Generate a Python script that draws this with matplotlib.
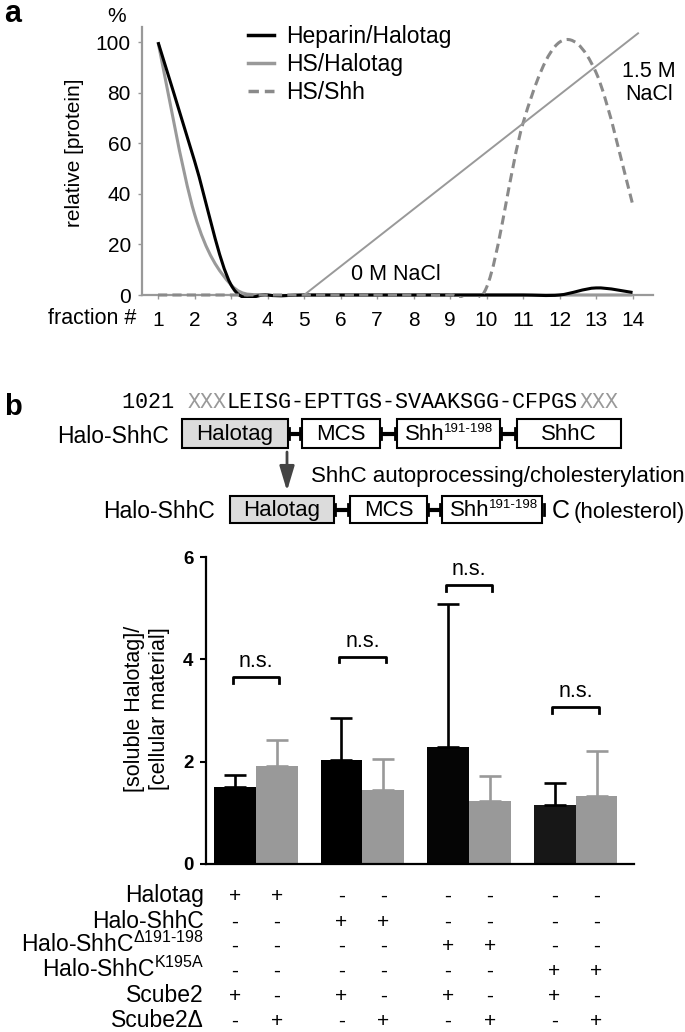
import numpy as np
import matplotlib
matplotlib.use("Agg")
import matplotlib.pyplot as plt
from matplotlib.path import Path
from matplotlib.patches import PathPatch, Rectangle
from matplotlib.lines import Line2D
import matplotlib.transforms as mtransforms

plt.rcParams['font.family'] = ['Liberation Sans', 'DejaVu Sans']
plt.rcParams['mathtext.fontset'] = 'custom'
plt.rcParams['mathtext.rm'] = 'Liberation Sans'
plt.rcParams['mathtext.it'] = 'Liberation Sans:italic'
plt.rcParams['mathtext.bf'] = 'Liberation Sans:bold'

# ---- panel a data: heparin / HS affinity chromatography ----
fractions = np.arange(1, 15)
heparin_halotag = [100, 53, 4, 0, 0, 0, 0, 0, 0, 0, 0, 0, 2.8, 1]
hs_halotag = [100, 32, 4, 0, 0, 0, 0, 0, 0, 0, 0, 0, 0, 0]
hs_shh = [0, 0, 0, 0, 0, 0, 0, 0, 0, 3, 68, 100, 88, 36]
nacl_x = [5, 14.15]
nacl_y = [0, 103.5]
legend_labels = ['Heparin/Halotag', 'HS/Halotag', 'HS/Shh']

# ---- panel b data: solubilisation assay ----
groups = ['Halotag', 'Halo-ShhC', 'Halo-ShhC d191-198', 'Halo-ShhC K195A']
scube2_mean = [1.50, 2.03, 2.29, 1.16]
scube2_sd = [0.24, 0.83, 2.80, 0.43]
scube2d_mean = [1.91, 1.44, 1.23, 1.33]
scube2d_sd = [0.51, 0.62, 0.49, 0.88]
ns_height = [3.65, 4.05, 5.45, 3.07]

row_labels = ['Halotag', 'Halo-ShhC',
              'Halo-ShhC$^{\\mathregular{\u0394191\u2010198}}$',
              'Halo-ShhC$^{\\mathregular{K195A}}$',
              'Scube2', 'Scube2\u0394']
row_signs = [['+', '+', '-', '-', '-', '-', '-', '-'],
             ['-', '-', '+', '+', '-', '-', '-', '-'],
             ['-', '-', '-', '-', '+', '+', '-', '-'],
             ['-', '-', '-', '-', '-', '-', '+', '+'],
             ['+', '-', '+', '-', '+', '-', '+', '-'],
             ['-', '+', '-', '+', '-', '+', '-', '+']]

GRAY = '#999999'
DGRAY = '#8a8a8a'
W, H = 685, 1032

fig = plt.figure(figsize=(W / 100, H / 100), dpi=100)

# overlay axes in pixel coordinates for labels and the construct diagram
ax0 = fig.add_axes([0, 0, 1, 1])
ax0.set_xlim(0, W)
ax0.set_ylim(H, 0)
ax0.axis('off')


def fig_rect(l, t, r, b):
    return [l / W, 1 - b / H, (r - l) / W, (b - t) / H]


def smooth_path(x, y):
    """Catmull-Rom style bezier through the points (like a spreadsheet smoothed line)"""
    x = np.asarray(x, float)
    y = np.asarray(y, float)
    n = len(x)
    verts = [(x[0], y[0])]
    codes = [Path.MOVETO]
    for i in range(n - 1):
        a = max(i - 1, 0)
        d = min(i + 2, n - 1)
        c1 = (x[i] + (x[i + 1] - x[a]) / 6, y[i] + (y[i + 1] - y[a]) / 6)
        c2 = (x[i + 1] - (x[d] - x[i]) / 6, y[i + 1] - (y[d] - y[i]) / 6)
        verts += [c1, c2, (x[i + 1], y[i + 1])]
        codes += [Path.CURVE4] * 3
    return Path(verts, codes)


# ================= panel a =================
axa = fig.add_axes(fig_rect(142, 27, 653, 295))
axa.patch.set_visible(False)
axa.set_xlim(0.56, 14.56)
axa.set_ylim(0, 106)
clip = Rectangle((0.56, -1.3), 14, 108, transform=axa.transData)

styles = [(heparin_halotag, 'black', '-', 4),
          (hs_halotag, GRAY, '-', 3),
          (hs_shh, DGRAY, (0, (3, 1.7)), 5)]
for vals, col, ls, z in styles:
    p = PathPatch(smooth_path(fractions, vals), fill=False, edgecolor=col,
                  lw=2.2, linestyle=ls, zorder=z)
    axa.add_patch(p)
    p.set_clip_path(clip)
axa.plot(nacl_x, nacl_y, color=GRAY, lw=1.4, zorder=6)

handles = [Line2D([], [], color=c, lw=2.5, linestyle=ls) for _, c, ls, _ in styles]
axa.legend(handles, legend_labels, loc='upper left', frameon=False,
           bbox_to_anchor=(248 / W, 1 - 25 / H), bbox_transform=fig.transFigure,
           fontsize=16.5, handlelength=1.15, handletextpad=0.5, labelspacing=0.22,
           borderpad=0, borderaxespad=0)

for s in ['top', 'right']:
    axa.spines[s].set_visible(False)
for s in ['left', 'bottom']:
    axa.spines[s].set_color(GRAY)
    axa.spines[s].set_linewidth(1.6)
axa.set_xticks(fractions)
axa.set_yticks(np.arange(0, 101, 20))
axa.tick_params(axis='x', length=3, width=1, color=GRAY, pad=8.5, labelsize=15)
axa.tick_params(axis='y', length=3, width=1, color=GRAY, pad=5, labelsize=15)

ax0.text(136, 324, 'fraction #', fontsize=15.5, ha='right', va='baseline')
ax0.text(117, 17, '%', fontsize=15, ha='center', va='center')
ax0.text(75, 153, 'relative [protein]', fontsize=15, rotation=90, ha='center', va='center')
ax0.text(396, 275, '0 M NaCl', fontsize=15.5, ha='center', va='center')
ax0.text(649, 83, '1.5 M\nNaCl', fontsize=15.5, ha='center', va='center', linespacing=1.1)
ax0.text(4, 22, 'a', fontsize=22, fontweight='bold', ha='left', va='baseline')

# ================= panel b: construct diagram =================
ax0.text(4, 415, 'b', fontsize=21, fontweight='bold', ha='left', va='baseline')

pitch = 0.6 * 15.7 * 100 / 72
segs = [('1021 ', 'black'), ('XXX', GRAY), ('LEISG-EPTTGS-SVAAKSGG-CFPGS', 'black'), ('XXX', GRAY)]
pos = 0
for s, c in segs:
    ax0.text(122 + pos * pitch, 408, s, fontsize=15.7, family='Liberation Mono',
             color=c, ha='left', va='baseline')
    pos += len(s)


def draw_construct(boxes, yc, h):
    for i, (x0, x1, lab, fc) in enumerate(boxes):
        ax0.add_patch(Rectangle((x0, yc - h / 2), x1 - x0, h, facecolor=fc,
                                edgecolor='black', lw=1.5))
        if lab == 'Shh':
            # label with small superscript range
            ax0.text(x0 + 8, yc + 6.5, 'Shh', fontsize=16, ha='left', va='baseline')
            ax0.text(x0 + 47, yc - 1, '191-198', fontsize=9.5, ha='left', va='baseline')
        else:
            ax0.text((x0 + x1) / 2, yc + 6.5, lab, fontsize=16, ha='center', va='baseline')
        if i < len(boxes) - 1:
            nx = boxes[i + 1][0]
            ax0.plot([x1, nx], [yc, yc], color='black', lw=3, solid_capstyle='butt')
            for xv in (x1 + 1.5, nx - 1.5):
                ax0.plot([xv, xv], [yc - 5.5, yc + 5.5], color='black', lw=2)


draw_construct([(182, 288, 'Halotag', '#dcdcdc'), (302, 380, 'MCS', 'white'),
                (397, 500, 'Shh', 'white'), (517, 621, 'ShhC', 'white')], 433.5, 29)
ax0.text(169, 443, 'Halo-ShhC', fontsize=16.5, ha='right', va='baseline')

draw_construct([(230, 334, 'Halotag', '#dcdcdc'), (350, 427, 'MCS', 'white'),
                (442, 542, 'Shh', 'white')], 509.5, 27)
ax0.plot([544, 544], [504, 515], color='black', lw=2)
ax0.text(215, 518, 'Halo-ShhC', fontsize=16.5, ha='right', va='baseline')
ax0.text(552, 518, 'C', fontsize=18, ha='left', va='baseline')
ax0.text(574, 518, '(holesterol)', fontsize=16, ha='left', va='baseline')

ax0.annotate('', xy=(287, 491), xytext=(287, 452),
             arrowprops=dict(arrowstyle='-|>,head_width=0.45,head_length=1.5',
                             color='#444444', lw=2, shrinkA=0, shrinkB=0))
ax0.text(311, 482, 'ShhC autoprocessing/cholesterylation', fontsize=16,
         ha='left', va='baseline')

# ================= panel b: bar chart =================
axb = fig.add_axes(fig_rect(206, 557, 634, 864))
axb.patch.set_visible(False)
x = np.arange(len(groups))
off = 0.197
bw = 0.394
axb.bar(x - off, scube2_mean, bw, color=['#000000', '#000000', '#050505', '#171717'],
        yerr=[np.zeros(len(x)), scube2_sd], ecolor='black',
        error_kw=dict(lw=1.9, capsize=8, capthick=1.9), zorder=2)
axb.bar(x + off, scube2d_mean, bw, color=GRAY,
        yerr=[np.zeros(len(x)), scube2d_sd], ecolor=GRAY,
        error_kw=dict(lw=1.9, capsize=8, capthick=1.9), zorder=2)

for i, hgt in enumerate(ns_height):
    axb.plot([i - 0.22, i - 0.22, i + 0.22, i + 0.22], [hgt - 0.11, hgt, hgt, hgt - 0.11],
             color='black', lw=2, clip_on=False)
    axb.text(i, hgt + 0.1, 'n.s.', fontsize=15.5, ha='center', va='bottom')

axb.set_xlim(-0.469, 3.549)
axb.set_ylim(0, 6)
axb.set_yticks([0, 2, 4, 6])
axb.set_xticks([])
for s in ['top', 'right']:
    axb.spines[s].set_visible(False)
for s in ['left', 'bottom']:
    axb.spines[s].set_linewidth(1.6)
axb.tick_params(axis='y', length=4, width=1.5, pad=5, labelsize=13.5)
for t in axb.get_yticklabels():
    t.set_fontweight('bold')

ax0.text(147, 709, '[soluble Halotag]/\n[cellular material]', fontsize=15.5,
         rotation=90, ha='center', va='center', linespacing=1.2)

# +/- table under the bars
row_y = [902, 928, 952, 977, 1002, 1027]
bar_x = np.ravel(np.column_stack([x - off, x + off]))
tr = mtransforms.blended_transform_factory(axb.transData, ax0.transData)
for lab, signs, yb in zip(row_labels, row_signs, row_y):
    ax0.text(204, yb, lab, fontsize=16.5, ha='right', va='baseline')
    for bx, s in zip(bar_x, signs):
        ax0.text(bx, yb, s, fontsize=15, ha='center', va='baseline', transform=tr)

fig.savefig('out.png', dpi=100)
